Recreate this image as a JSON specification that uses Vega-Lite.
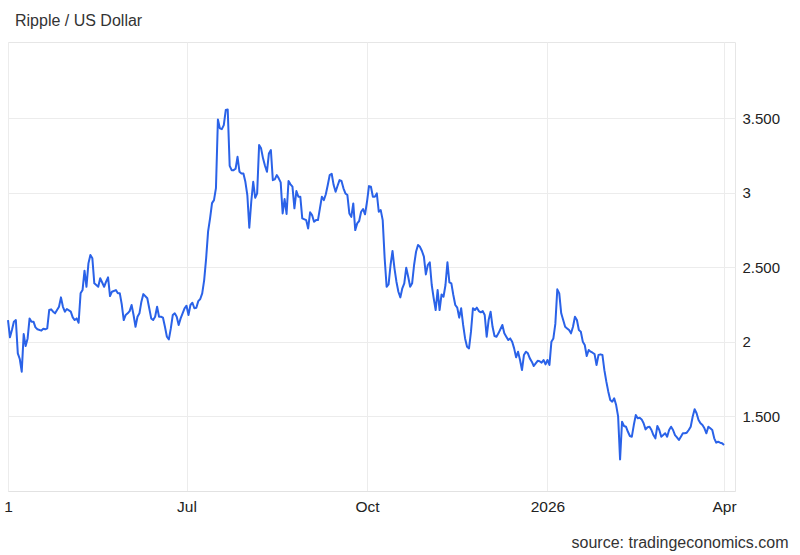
{
  "$schema": "https://vega.github.io/schema/vega-lite/v6.json",
  "width": 727,
  "height": 449,
  "autosize": {"type": "none"},
  "padding": {"left": 8, "top": 42, "right": 65, "bottom": 64},
  "background": "white",
  "title": {"text": "Ripple / US Dollar", "anchor": "start", "frame": "group", "offset": 0, "baseline": "alphabetic", "dx": 7, "fontSize": 16, "fontWeight": "normal", "font": "Liberation Sans", "color": "#333333"},
  "config": {"view": {"stroke": "#e6e6e6"}, "font": "Liberation Sans"},
  "data": {"values": [
    {"date": "2025-04-01", "price": 2.146}, {"date": "2025-04-02", "price": 2.03}, {"date": "2025-04-03", "price": 2.079}, {"date": "2025-04-04", "price": 2.135}, {"date": "2025-04-05", "price": 2.146}, {"date": "2025-04-06", "price": 1.923}, {"date": "2025-04-07", "price": 1.885}, {"date": "2025-04-08", "price": 1.80}, {"date": "2025-04-09", "price": 2.052}, {"date": "2025-04-10", "price": 1.972}, {"date": "2025-04-11", "price": 2.023}, {"date": "2025-04-12", "price": 2.157}, {"date": "2025-04-13", "price": 2.135}, {"date": "2025-04-14", "price": 2.135}, {"date": "2025-04-15", "price": 2.097}, {"date": "2025-04-16", "price": 2.084}, {"date": "2025-04-18", "price": 2.075}, {"date": "2025-04-19", "price": 2.088}, {"date": "2025-04-20", "price": 2.084}, {"date": "2025-04-21", "price": 2.09}, {"date": "2025-04-22", "price": 2.213}, {"date": "2025-04-23", "price": 2.218}, {"date": "2025-04-24", "price": 2.202}, {"date": "2025-04-25", "price": 2.191}, {"date": "2025-04-27", "price": 2.235}, {"date": "2025-04-28", "price": 2.298}, {"date": "2025-04-29", "price": 2.235}, {"date": "2025-04-30", "price": 2.202},
    {"date": "2025-05-01", "price": 2.22}, {"date": "2025-05-03", "price": 2.202}, {"date": "2025-05-04", "price": 2.164}, {"date": "2025-05-05", "price": 2.146}, {"date": "2025-05-06", "price": 2.157}, {"date": "2025-05-07", "price": 2.128}, {"date": "2025-05-08", "price": 2.325}, {"date": "2025-05-09", "price": 2.347}, {"date": "2025-05-10", "price": 2.477}, {"date": "2025-05-11", "price": 2.369}, {"date": "2025-05-12", "price": 2.526}, {"date": "2025-05-13", "price": 2.582}, {"date": "2025-05-14", "price": 2.56}, {"date": "2025-05-15", "price": 2.392}, {"date": "2025-05-16", "price": 2.381}, {"date": "2025-05-17", "price": 2.369}, {"date": "2025-05-18", "price": 2.426}, {"date": "2025-05-20", "price": 2.369}, {"date": "2025-05-21", "price": 2.403}, {"date": "2025-05-22", "price": 2.432}, {"date": "2025-05-23", "price": 2.307}, {"date": "2025-05-24", "price": 2.336}, {"date": "2025-05-26", "price": 2.347}, {"date": "2025-05-27", "price": 2.325}, {"date": "2025-05-28", "price": 2.325}, {"date": "2025-05-29", "price": 2.25}, {"date": "2025-05-30", "price": 2.146}, {"date": "2025-05-31", "price": 2.18},
    {"date": "2025-06-01", "price": 2.191}, {"date": "2025-06-02", "price": 2.206}, {"date": "2025-06-03", "price": 2.247}, {"date": "2025-06-04", "price": 2.18}, {"date": "2025-06-05", "price": 2.101}, {"date": "2025-06-06", "price": 2.168}, {"date": "2025-06-07", "price": 2.191}, {"date": "2025-06-08", "price": 2.269}, {"date": "2025-06-09", "price": 2.32}, {"date": "2025-06-11", "price": 2.292}, {"date": "2025-06-12", "price": 2.225}, {"date": "2025-06-13", "price": 2.157}, {"date": "2025-06-14", "price": 2.146}, {"date": "2025-06-15", "price": 2.168}, {"date": "2025-06-16", "price": 2.235}, {"date": "2025-06-17", "price": 2.168}, {"date": "2025-06-18", "price": 2.168}, {"date": "2025-06-19", "price": 2.162}, {"date": "2025-06-20", "price": 2.101}, {"date": "2025-06-21", "price": 2.034}, {"date": "2025-06-22", "price": 2.016}, {"date": "2025-06-23", "price": 2.09}, {"date": "2025-06-24", "price": 2.18}, {"date": "2025-06-25", "price": 2.191}, {"date": "2025-06-26", "price": 2.168}, {"date": "2025-06-27", "price": 2.113}, {"date": "2025-06-28", "price": 2.157}, {"date": "2025-06-29", "price": 2.191}, {"date": "2025-06-30", "price": 2.225},
    {"date": "2025-07-01", "price": 2.242}, {"date": "2025-07-02", "price": 2.18}, {"date": "2025-07-03", "price": 2.247}, {"date": "2025-07-04", "price": 2.262}, {"date": "2025-07-05", "price": 2.225}, {"date": "2025-07-06", "price": 2.229}, {"date": "2025-07-07", "price": 2.273}, {"date": "2025-07-08", "price": 2.287}, {"date": "2025-07-09", "price": 2.325}, {"date": "2025-07-10", "price": 2.414}, {"date": "2025-07-11", "price": 2.56}, {"date": "2025-07-12", "price": 2.74}, {"date": "2025-07-13", "price": 2.828}, {"date": "2025-07-14", "price": 2.93}, {"date": "2025-07-15", "price": 2.95}, {"date": "2025-07-16", "price": 3.03}, {"date": "2025-07-17", "price": 3.49}, {"date": "2025-07-18", "price": 3.431}, {"date": "2025-07-19", "price": 3.426}, {"date": "2025-07-20", "price": 3.453}, {"date": "2025-07-21", "price": 3.554}, {"date": "2025-07-22", "price": 3.558}, {"date": "2025-07-23", "price": 3.18}, {"date": "2025-07-24", "price": 3.151}, {"date": "2025-07-25", "price": 3.151}, {"date": "2025-07-26", "price": 3.16}, {"date": "2025-07-27", "price": 3.24}, {"date": "2025-07-28", "price": 3.14}, {"date": "2025-07-29", "price": 3.129}, {"date": "2025-07-30", "price": 3.129}, {"date": "2025-07-31", "price": 3.073},
    {"date": "2025-08-01", "price": 2.984}, {"date": "2025-08-02", "price": 2.765}, {"date": "2025-08-03", "price": 2.939}, {"date": "2025-08-04", "price": 3.073}, {"date": "2025-08-05", "price": 2.966}, {"date": "2025-08-06", "price": 2.995}, {"date": "2025-08-07", "price": 3.319}, {"date": "2025-08-08", "price": 3.297}, {"date": "2025-08-09", "price": 3.23}, {"date": "2025-08-10", "price": 3.18}, {"date": "2025-08-11", "price": 3.14}, {"date": "2025-08-12", "price": 3.263}, {"date": "2025-08-13", "price": 3.286}, {"date": "2025-08-14", "price": 3.084}, {"date": "2025-08-15", "price": 3.089}, {"date": "2025-08-16", "price": 3.118}, {"date": "2025-08-17", "price": 3.096}, {"date": "2025-08-18", "price": 3.069}, {"date": "2025-08-19", "price": 2.861}, {"date": "2025-08-20", "price": 2.957}, {"date": "2025-08-21", "price": 2.857}, {"date": "2025-08-22", "price": 3.078}, {"date": "2025-08-23", "price": 3.056}, {"date": "2025-08-24", "price": 3.04}, {"date": "2025-08-25", "price": 2.895}, {"date": "2025-08-26", "price": 3.011}, {"date": "2025-08-27", "price": 2.973}, {"date": "2025-08-28", "price": 2.973}, {"date": "2025-08-29", "price": 2.828}, {"date": "2025-08-31", "price": 2.816},
    {"date": "2025-09-01", "price": 2.76}, {"date": "2025-09-02", "price": 2.868}, {"date": "2025-09-03", "price": 2.85}, {"date": "2025-09-04", "price": 2.805}, {"date": "2025-09-05", "price": 2.816}, {"date": "2025-09-06", "price": 2.816}, {"date": "2025-09-07", "price": 2.895}, {"date": "2025-09-08", "price": 2.973}, {"date": "2025-09-09", "price": 2.95}, {"date": "2025-09-10", "price": 2.989}, {"date": "2025-09-11", "price": 3.051}, {"date": "2025-09-12", "price": 3.118}, {"date": "2025-09-13", "price": 3.127}, {"date": "2025-09-14", "price": 3.051}, {"date": "2025-09-15", "price": 3.006}, {"date": "2025-09-16", "price": 3.046}, {"date": "2025-09-17", "price": 3.084}, {"date": "2025-09-18", "price": 3.078}, {"date": "2025-09-19", "price": 3.029}, {"date": "2025-09-20", "price": 2.995}, {"date": "2025-09-21", "price": 2.984}, {"date": "2025-09-22", "price": 2.861}, {"date": "2025-09-23", "price": 2.838}, {"date": "2025-09-24", "price": 2.928}, {"date": "2025-09-25", "price": 2.749}, {"date": "2025-09-26", "price": 2.794}, {"date": "2025-09-27", "price": 2.81}, {"date": "2025-09-28", "price": 2.872}, {"date": "2025-09-29", "price": 2.89}, {"date": "2025-09-30", "price": 2.855},
    {"date": "2025-10-01", "price": 2.939}, {"date": "2025-10-02", "price": 3.044}, {"date": "2025-10-03", "price": 3.04}, {"date": "2025-10-04", "price": 2.973}, {"date": "2025-10-05", "price": 2.973}, {"date": "2025-10-06", "price": 2.995}, {"date": "2025-10-07", "price": 2.872}, {"date": "2025-10-08", "price": 2.883}, {"date": "2025-10-09", "price": 2.816}, {"date": "2025-10-10", "price": 2.56}, {"date": "2025-10-11", "price": 2.369}, {"date": "2025-10-12", "price": 2.385}, {"date": "2025-10-13", "price": 2.515}, {"date": "2025-10-14", "price": 2.609}, {"date": "2025-10-15", "price": 2.493}, {"date": "2025-10-16", "price": 2.403}, {"date": "2025-10-17", "price": 2.336}, {"date": "2025-10-18", "price": 2.298}, {"date": "2025-10-19", "price": 2.359}, {"date": "2025-10-20", "price": 2.392}, {"date": "2025-10-21", "price": 2.497}, {"date": "2025-10-22", "price": 2.436}, {"date": "2025-10-23", "price": 2.369}, {"date": "2025-10-24", "price": 2.392}, {"date": "2025-10-25", "price": 2.515}, {"date": "2025-10-26", "price": 2.604}, {"date": "2025-10-27", "price": 2.649}, {"date": "2025-10-28", "price": 2.637}, {"date": "2025-10-29", "price": 2.609}, {"date": "2025-10-30", "price": 2.571}, {"date": "2025-10-31", "price": 2.452},
    {"date": "2025-11-01", "price": 2.515}, {"date": "2025-11-02", "price": 2.533}, {"date": "2025-11-03", "price": 2.381}, {"date": "2025-11-04", "price": 2.292}, {"date": "2025-11-05", "price": 2.213}, {"date": "2025-11-06", "price": 2.347}, {"date": "2025-11-07", "price": 2.213}, {"date": "2025-11-08", "price": 2.318}, {"date": "2025-11-09", "price": 2.302}, {"date": "2025-11-10", "price": 2.381}, {"date": "2025-11-11", "price": 2.533}, {"date": "2025-11-12", "price": 2.399}, {"date": "2025-11-13", "price": 2.392}, {"date": "2025-11-14", "price": 2.314}, {"date": "2025-11-15", "price": 2.247}, {"date": "2025-11-16", "price": 2.229}, {"date": "2025-11-17", "price": 2.162}, {"date": "2025-11-18", "price": 2.225}, {"date": "2025-11-19", "price": 2.113}, {"date": "2025-11-20", "price": 2.023}, {"date": "2025-11-21", "price": 1.967}, {"date": "2025-11-22", "price": 1.956}, {"date": "2025-11-23", "price": 2.068}, {"date": "2025-11-24", "price": 2.225}, {"date": "2025-11-25", "price": 2.213}, {"date": "2025-11-26", "price": 2.229}, {"date": "2025-11-27", "price": 2.206}, {"date": "2025-11-28", "price": 2.198}, {"date": "2025-11-29", "price": 2.206}, {"date": "2025-11-30", "price": 2.18},
    {"date": "2025-12-01", "price": 2.034}, {"date": "2025-12-02", "price": 2.146}, {"date": "2025-12-03", "price": 2.202}, {"date": "2025-12-04", "price": 2.101}, {"date": "2025-12-05", "price": 2.039}, {"date": "2025-12-06", "price": 2.034}, {"date": "2025-12-07", "price": 2.057}, {"date": "2025-12-09", "price": 2.113}, {"date": "2025-12-10", "price": 2.057}, {"date": "2025-12-11", "price": 2.034}, {"date": "2025-12-12", "price": 2.012}, {"date": "2025-12-13", "price": 2.023}, {"date": "2025-12-14", "price": 2.001}, {"date": "2025-12-15", "price": 1.956}, {"date": "2025-12-16", "price": 1.896}, {"date": "2025-12-17", "price": 1.934}, {"date": "2025-12-18", "price": 1.878}, {"date": "2025-12-19", "price": 1.811}, {"date": "2025-12-20", "price": 1.912}, {"date": "2025-12-21", "price": 1.934}, {"date": "2025-12-22", "price": 1.923}, {"date": "2025-12-23", "price": 1.889}, {"date": "2025-12-24", "price": 1.867}, {"date": "2025-12-25", "price": 1.838}, {"date": "2025-12-26", "price": 1.856}, {"date": "2025-12-27", "price": 1.873}, {"date": "2025-12-28", "price": 1.87}, {"date": "2025-12-29", "price": 1.86}, {"date": "2025-12-30", "price": 1.878}, {"date": "2025-12-31", "price": 1.849},
    {"date": "2026-01-01", "price": 1.878}, {"date": "2026-01-02", "price": 1.845}, {"date": "2026-01-03", "price": 2.001}, {"date": "2026-01-04", "price": 2.023}, {"date": "2026-01-05", "price": 2.12}, {"date": "2026-01-06", "price": 2.352}, {"date": "2026-01-07", "price": 2.325}, {"date": "2026-01-08", "price": 2.191}, {"date": "2026-01-09", "price": 2.146}, {"date": "2026-01-10", "price": 2.101}, {"date": "2026-01-11", "price": 2.09}, {"date": "2026-01-12", "price": 2.079}, {"date": "2026-01-13", "price": 2.057}, {"date": "2026-01-14", "price": 2.101}, {"date": "2026-01-15", "price": 2.168}, {"date": "2026-01-16", "price": 2.146}, {"date": "2026-01-17", "price": 2.079}, {"date": "2026-01-18", "price": 2.068}, {"date": "2026-01-19", "price": 2.001}, {"date": "2026-01-20", "price": 1.979}, {"date": "2026-01-21", "price": 1.905}, {"date": "2026-01-22", "price": 1.945}, {"date": "2026-01-23", "price": 1.934}, {"date": "2026-01-24", "price": 1.927}, {"date": "2026-01-25", "price": 1.918}, {"date": "2026-01-26", "price": 1.845}, {"date": "2026-01-27", "price": 1.912}, {"date": "2026-01-28", "price": 1.916}, {"date": "2026-01-29", "price": 1.912}, {"date": "2026-01-30", "price": 1.81}, {"date": "2026-01-31", "price": 1.733},
    {"date": "2026-02-01", "price": 1.666}, {"date": "2026-02-02", "price": 1.61}, {"date": "2026-02-03", "price": 1.599}, {"date": "2026-02-04", "price": 1.621}, {"date": "2026-02-05", "price": 1.576}, {"date": "2026-02-06", "price": 1.50}, {"date": "2026-02-07", "price": 1.212}, {"date": "2026-02-08", "price": 1.464}, {"date": "2026-02-09", "price": 1.436}, {"date": "2026-02-10", "price": 1.431}, {"date": "2026-02-11", "price": 1.397}, {"date": "2026-02-12", "price": 1.369}, {"date": "2026-02-13", "price": 1.364}, {"date": "2026-02-14", "price": 1.442}, {"date": "2026-02-15", "price": 1.509}, {"date": "2026-02-16", "price": 1.487}, {"date": "2026-02-17", "price": 1.491}, {"date": "2026-02-18", "price": 1.48}, {"date": "2026-02-19", "price": 1.454}, {"date": "2026-02-20", "price": 1.413}, {"date": "2026-02-21", "price": 1.427}, {"date": "2026-02-22", "price": 1.431}, {"date": "2026-02-23", "price": 1.409}, {"date": "2026-02-24", "price": 1.375}, {"date": "2026-02-25", "price": 1.353}, {"date": "2026-02-26", "price": 1.436}, {"date": "2026-02-27", "price": 1.409}, {"date": "2026-02-28", "price": 1.364},
    {"date": "2026-03-01", "price": 1.375}, {"date": "2026-03-02", "price": 1.387}, {"date": "2026-03-03", "price": 1.364}, {"date": "2026-03-04", "price": 1.409}, {"date": "2026-03-05", "price": 1.431}, {"date": "2026-03-06", "price": 1.409}, {"date": "2026-03-07", "price": 1.375}, {"date": "2026-03-08", "price": 1.36}, {"date": "2026-03-09", "price": 1.342}, {"date": "2026-03-10", "price": 1.364}, {"date": "2026-03-11", "price": 1.387}, {"date": "2026-03-12", "price": 1.387}, {"date": "2026-03-13", "price": 1.391}, {"date": "2026-03-14", "price": 1.409}, {"date": "2026-03-15", "price": 1.431}, {"date": "2026-03-16", "price": 1.498}, {"date": "2026-03-17", "price": 1.548}, {"date": "2026-03-18", "price": 1.521}, {"date": "2026-03-19", "price": 1.476}, {"date": "2026-03-20", "price": 1.454}, {"date": "2026-03-21", "price": 1.442}, {"date": "2026-03-22", "price": 1.42}, {"date": "2026-03-23", "price": 1.387}, {"date": "2026-03-24", "price": 1.431}, {"date": "2026-03-25", "price": 1.42}, {"date": "2026-03-26", "price": 1.409}, {"date": "2026-03-27", "price": 1.353}, {"date": "2026-03-28", "price": 1.324}, {"date": "2026-03-29", "price": 1.33}, {"date": "2026-03-30", "price": 1.324}, {"date": "2026-03-31", "price": 1.32}, {"date": "2026-04-01", "price": 1.308}
  ]},
  "mark": {"type": "line", "color": "#2a62e8", "strokeWidth": 2, "strokeJoin": "round"},
  "encoding": {
    "x": {
      "field": "date", "type": "temporal",
      "scale": {"type": "utc", "domain": [{"year": 2025, "month": 4, "date": 1, "utc": true}, {"year": 2026, "month": 4, "date": 6, "hours": 14, "utc": true}]},
      "axis": {
        "values": [{"year": 2025, "month": 4, "date": 1, "utc": true}, {"year": 2025, "month": 7, "date": 1, "utc": true}, {"year": 2025, "month": 10, "date": 1, "utc": true}, {"year": 2026, "month": 1, "date": 1, "utc": true}, {"year": 2026, "month": 4, "date": 1, "utc": true}],
        "labelExpr": "utcmonth(datum.value) == 0 ? utcFormat(datum.value, '%Y') : ((utcyear(datum.value) == 2025 && utcmonth(datum.value) == 3) ? '1' : utcFormat(datum.value, '%b'))",
        "labelFlush": false,
        "labelOverlap": false,
        "labelFontSize": 15.5,
        "labelColor": "#222222",
        "labelPadding": 8,
        "ticks": false,
        "grid": true,
        "gridColor": "#ececec",
        "domainColor": "#e2e2e2",
        "title": "source: tradingeconomics.com",
        "titleAnchor": "end",
        "titleAlign": "right",
        "titleX": 780,
        "titleY": 56,
        "titleBaseline": "alphabetic",
        "titleFontSize": 16,
        "titleFontWeight": "normal",
        "titleColor": "#333333"
      }
    },
    "y": {
      "field": "price", "type": "quantitative",
      "scale": {"domain": [1.0, 4.01], "zero": false, "nice": false},
      "axis": {
        "orient": "right",
        "values": [1.5, 2, 2.5, 3, 3.5],
        "labelExpr": "datum.value % 1 == 0 ? format(datum.value, 'd') : format(datum.value, '.3f')",
        "labelFontSize": 15,
        "labelColor": "#222222",
        "labelPadding": 7,
        "ticks": false,
        "domain": false,
        "grid": true,
        "gridColor": "#ececec",
        "title": null
      }
    }
  }
}
